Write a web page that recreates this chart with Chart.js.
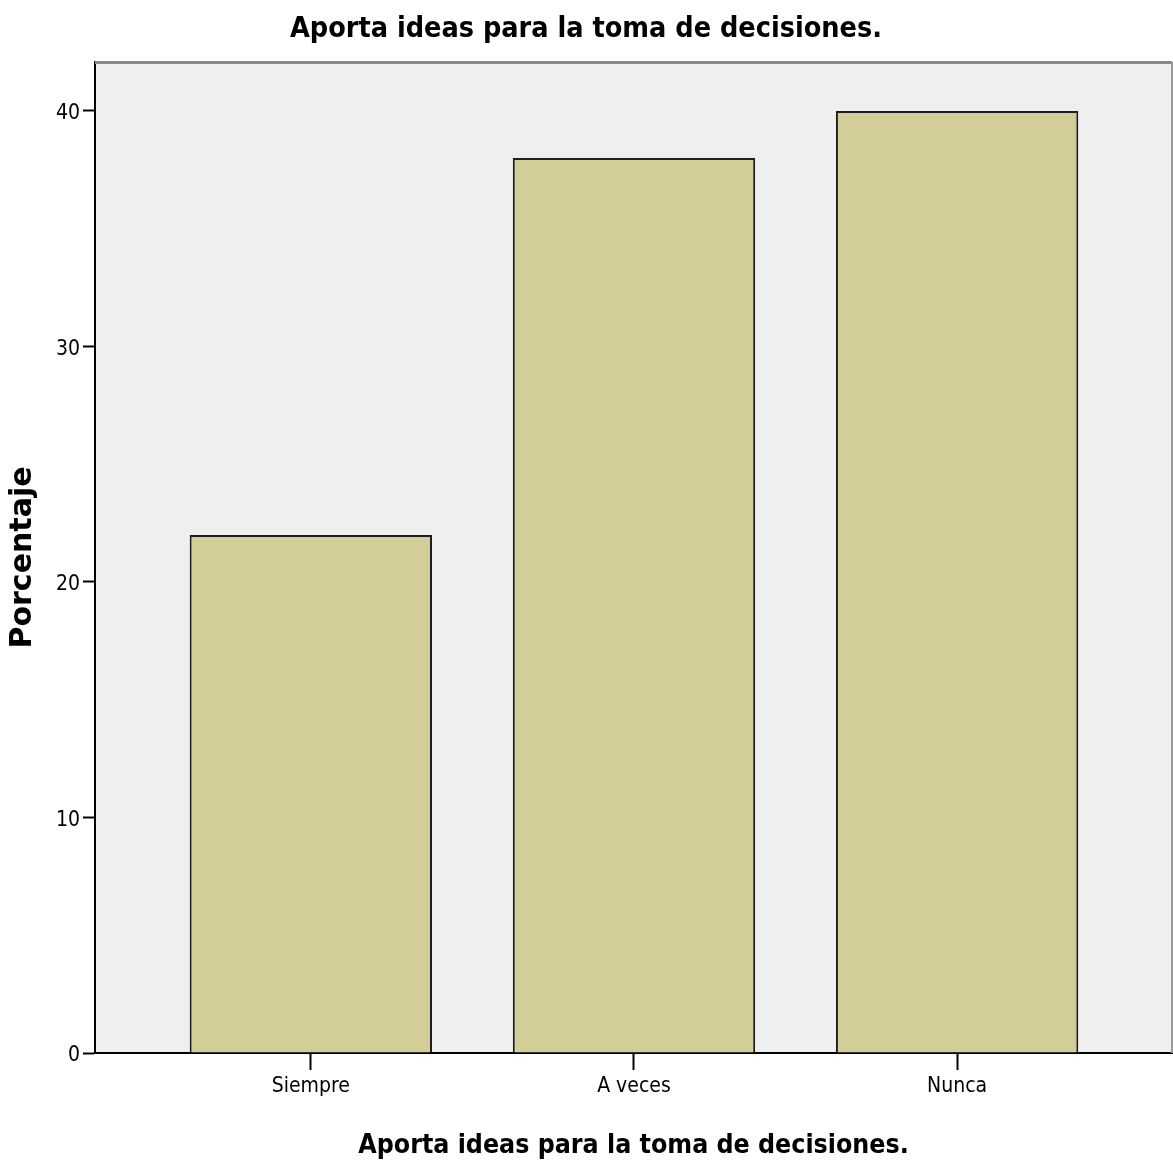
<!DOCTYPE html>
<html>
<head>
<meta charset="utf-8">
<script src="https://cdn.jsdelivr.net/npm/chart.js@4.4.1/dist/chart.umd.min.js"></script>
<style>
  html, body { margin: 0; padding: 0; background: #ffffff; }
  #wrap { width: 1173px; height: 1162px; }
</style>
</head>
<body>
<div id="wrap"><canvas id="c" width="1173" height="1162"></canvas></div>
<script>
const chartTitle = 'Aporta ideas para la toma de decisiones.';
const xAxisTitle = 'Aporta ideas para la toma de decisiones.';
const yAxisTitle = 'Porcentaje';
const categories = ['Siempre', 'A veces', 'Nunca'];
const percentages = [22, 38, 40];
const yTickValues = [0, 10, 20, 30, 40];

const narrow = "'Liberation Sans Narrow', 'Arial Narrow', 'DejaVu Sans Condensed', sans-serif";

const plotFrame = {
  id: 'plotFrame',
  beforeDraw(chart) {
    const { ctx, chartArea: a } = chart;
    ctx.save();
    ctx.fillStyle = '#ffffff';
    ctx.fillRect(0, 0, chart.width, chart.height);
    ctx.fillStyle = '#efefef';
    ctx.fillRect(a.left, a.top, a.right - a.left, a.bottom - a.top);
    ctx.restore();
  },
  beforeDatasetsDraw(chart) {
    const { ctx, chartArea: a } = chart;
    ctx.save();
    ctx.strokeStyle = '#8a8a8a';
    ctx.lineWidth = 3;
    ctx.beginPath();
    ctx.moveTo(a.left, a.top + 0.5);
    ctx.lineTo(a.right, a.top + 0.5);
    ctx.stroke();
    ctx.lineWidth = 2;
    ctx.strokeStyle = '#9a9a9a';
    ctx.beginPath();
    ctx.moveTo(a.right, a.top);
    ctx.lineTo(a.right, a.bottom);
    ctx.stroke();
    ctx.restore();
  }
};

new Chart(document.getElementById('c'), {
  type: 'bar',
  data: {
    datasets: [{
      label: yAxisTitle,
      data: categories.map((c, i) => ({ x: i + 1, y: percentages[i] })),
      backgroundColor: '#d3ce97',
      borderColor: '#1e1e1e',
      borderWidth: 2,
      categoryPercentage: 1,
      barPercentage: 0.75
    }]
  },
  options: {
    responsive: false,
    animation: false,
    layout: { padding: { left: 0, right: 1, top: 0, bottom: 0 } },
    plugins: {
      legend: { display: false },
      tooltip: { enabled: false },
      title: {
        display: true,
        text: chartTitle,
        color: '#000000',
        font: { family: narrow, size: 28.5, weight: 'bold', lineHeight: 1.2 },
        padding: { top: 12, bottom: 15.8 }
      }
    },
    scales: {
      x: {
        type: 'linear',
        offset: false,
        min: 0.332,
        max: 3.665,
        z: 1,
        afterBuildTicks(scale) { scale.ticks = categories.map((c, i) => ({ value: i + 1 })); },
        afterFit(scale) { scale.height = 109; },
        ticks: {
          color: '#000000',
          font: { family: narrow, size: 21 },
          padding: 4,
          maxRotation: 0,
          callback: (v) => categories[Math.round(v) - 1]
        },
        grid: { offset: false, drawOnChartArea: false, drawTicks: true, tickLength: 17, tickColor: '#000000', tickWidth: 2 },
        border: { display: true, color: '#000000', width: 2 },
        title: {
          display: true,
          text: xAxisTitle,
          color: '#000000',
          font: { family: narrow, size: 26.5, weight: 'bold', lineHeight: 1.2 },
          padding: { top: 3, bottom: 0 }
        }
      },
      y: {
        min: 0,
        max: 42.08,
        z: 1,
        afterBuildTicks(scale) { scale.ticks = yTickValues.map(v => ({ value: v })); },
        afterFit(scale) { scale.width = 95; },
        ticks: {
          color: '#000000',
          font: { family: narrow, size: 21 },
          padding: 3,
          labelOffset: 3
        },
        grid: { drawOnChartArea: false, drawTicks: true, tickLength: 12, tickColor: '#000000', tickWidth: 2 },
        border: { display: true, color: '#000000', width: 2 },
        title: {
          display: true,
          text: yAxisTitle,
          color: '#000000',
          font: { family: "'DejaVu Sans', Verdana, sans-serif", size: 30, weight: 'bold', lineHeight: 1.2 },
          padding: { top: 5, bottom: 0 }
        }
      }
    }
  },
  plugins: [plotFrame]
});
</script>
</body>
</html>
